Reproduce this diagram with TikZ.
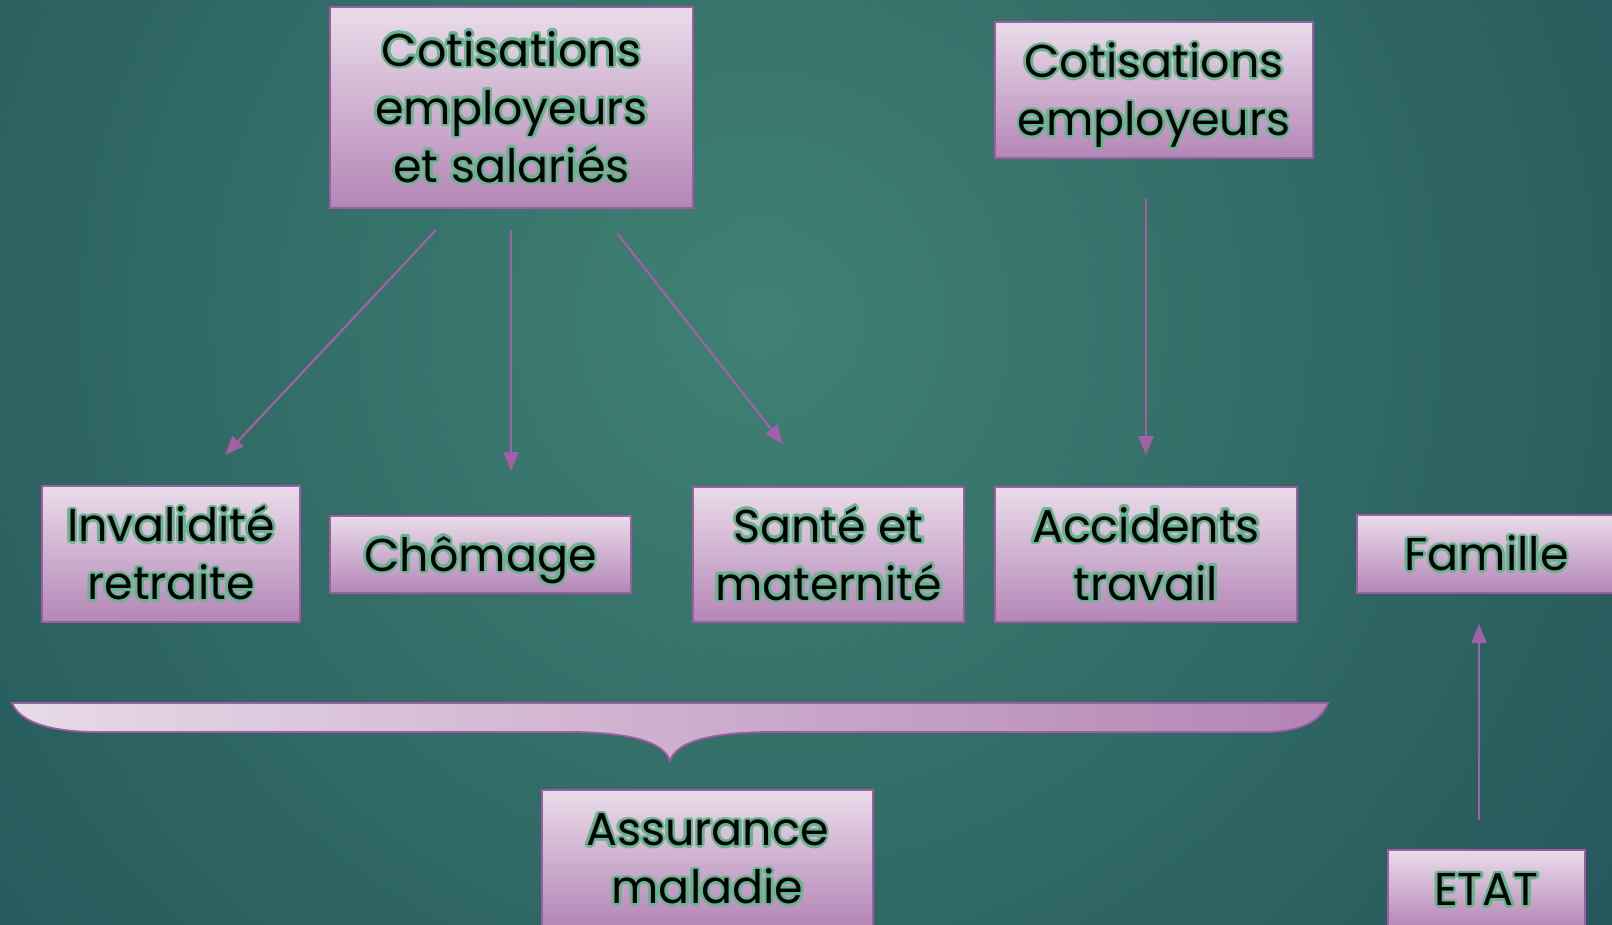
\documentclass[tikz,border=0pt]{standalone}
\usepackage{fontspec}
\setmainfont{Poppins}
\usetikzlibrary{arrows.meta}
\definecolor{bgin}{RGB}{64,129,116}
\definecolor{bgmid}{RGB}{44,98,97}
\definecolor{bgout}{RGB}{24,64,80}
\definecolor{boxtop}{RGB}{234,220,234}
\definecolor{boxbot}{RGB}{180,134,182}
\definecolor{boxline}{RGB}{160,92,162}
\definecolor{arrc}{RGB}{162,96,166}
\definecolor{glowc}{RGB}{104,180,144}
\definecolor{brl}{RGB}{232,218,232}
\definecolor{brr}{RGB}{180,132,180}
\pgfdeclareradialshading{bgshade}{\pgfpoint{0bp}{0bp}}{color(0bp)=(bgin); color(16bp)=(bgmid); color(35bp)=(bgout); color(50bp)=(bgout)}
\newsavebox\glowA
\newsavebox\glowB
\newcommand\gl[2]{\rlap{\hspace*{#1}\raisebox{#2}{\usebox\glowA}}}
\newcommand\glowtext[1]{%
 \sbox\glowA{\color{glowc}\begin{tabular}{@{}c@{}}#1\end{tabular}}%
 \sbox\glowB{\color{black}\begin{tabular}{@{}c@{}}#1\end{tabular}}%
 \raisebox{-5pt}[\height][\depth]{%
 \gl{2.6pt}{0pt}\gl{-2.6pt}{0pt}\gl{0pt}{2.6pt}\gl{0pt}{-2.6pt}%
 \gl{2.25pt}{1.3pt}\gl{-2.25pt}{1.3pt}\gl{2.25pt}{-1.3pt}\gl{-2.25pt}{-1.3pt}%
 \gl{1.3pt}{2.25pt}\gl{-1.3pt}{2.25pt}\gl{1.3pt}{-2.25pt}\gl{-1.3pt}{-2.25pt}%
 \usebox\glowB}}
\tikzset{
 box/.style={draw=boxline, line width=2pt, top color=boxtop, bottom color=boxbot,
   rectangle, inner sep=0pt, font=\fontsize{46}{58}\selectfont},
 arr/.style={draw=arrc, line width=2.2pt, -{Triangle[length=19pt,width=15pt]}},
}
\begin{document}
\begin{tikzpicture}[x=1pt,y=-1pt]
\useasboundingbox (0,0) rectangle (1612,924);
\clip (0,0) rectangle (1612,924);
\fill[bgout] (0,0) rectangle (1612,924);
\shade[shading=bgshade] (760,320) circle (1200);
% brace
\path[draw=boxline, line width=1.8pt, left color=brl, right color=brr]
 (12,703) -- (1328,703)
 .. controls (1320,722) and (1300,732) .. (1262,732) -- (766,732)
 .. controls (700,733) and (675,745) .. (670,761)
 .. controls (665,745) and (640,733) .. (575,732) -- (98,732)
 .. controls (50,732) and (20,722) .. (12,703) -- cycle;
% boxes
\node[box, minimum width=363pt, minimum height=201pt] (b1) at (511.5,107.5) {\glowtext{Cotisations\\employeurs\\et salariés}};
\node[box, minimum width=318pt, minimum height=136pt] (b2) at (1154,90) {\glowtext{Cotisations\\employeurs}};
\node[box, minimum width=258pt, minimum height=136pt] (inv) at (171,554) {\glowtext{Invalidité\\retraite}};
\node[box, minimum width=301pt, minimum height=77pt] (cho) at (480.5,554.5) {\glowtext{Chômage}};
\node[box, minimum width=271pt, minimum height=135pt] (san) at (828.5,554.5) {\glowtext{Santé et\\maternité}};
\node[box, minimum width=302pt, minimum height=135pt] (acc) at (1146,554.5) {\glowtext{Accidents\\travail}};
\node[box, minimum width=259pt, minimum height=78pt] (fam) at (1486.5,554) {\glowtext{Famille}};
\node[box, minimum width=197pt, minimum height=78pt] (etat) at (1486.5,889) {\glowtext{ETAT}};
\node[box, minimum width=331pt, minimum height=136pt] (am) at (707.5,858) {\glowtext{Assurance\\maladie}};
% arrow ends
\coordinate (a1s) at (436,230); \coordinate (a1e) at (225,455);
\coordinate (a2s) at (511,230); \coordinate (a2e) at (511,471);
\coordinate (a3s) at (617,233); \coordinate (a3e) at (783,444);
\coordinate (a4s) at (1146,199); \coordinate (a4e) at (1146,455);
\coordinate (a5s) at (1479,820); \coordinate (a5e) at (1479,624);
\draw[arr] (a1s) -- (a1e);
\draw[arr] (a2s) -- (a2e);
\draw[arr] (a3s) -- (a3e);
\draw[arr] (a4s) -- (a4e);
\draw[arr] (a5s) -- (a5e);
\end{tikzpicture}
\end{document}
